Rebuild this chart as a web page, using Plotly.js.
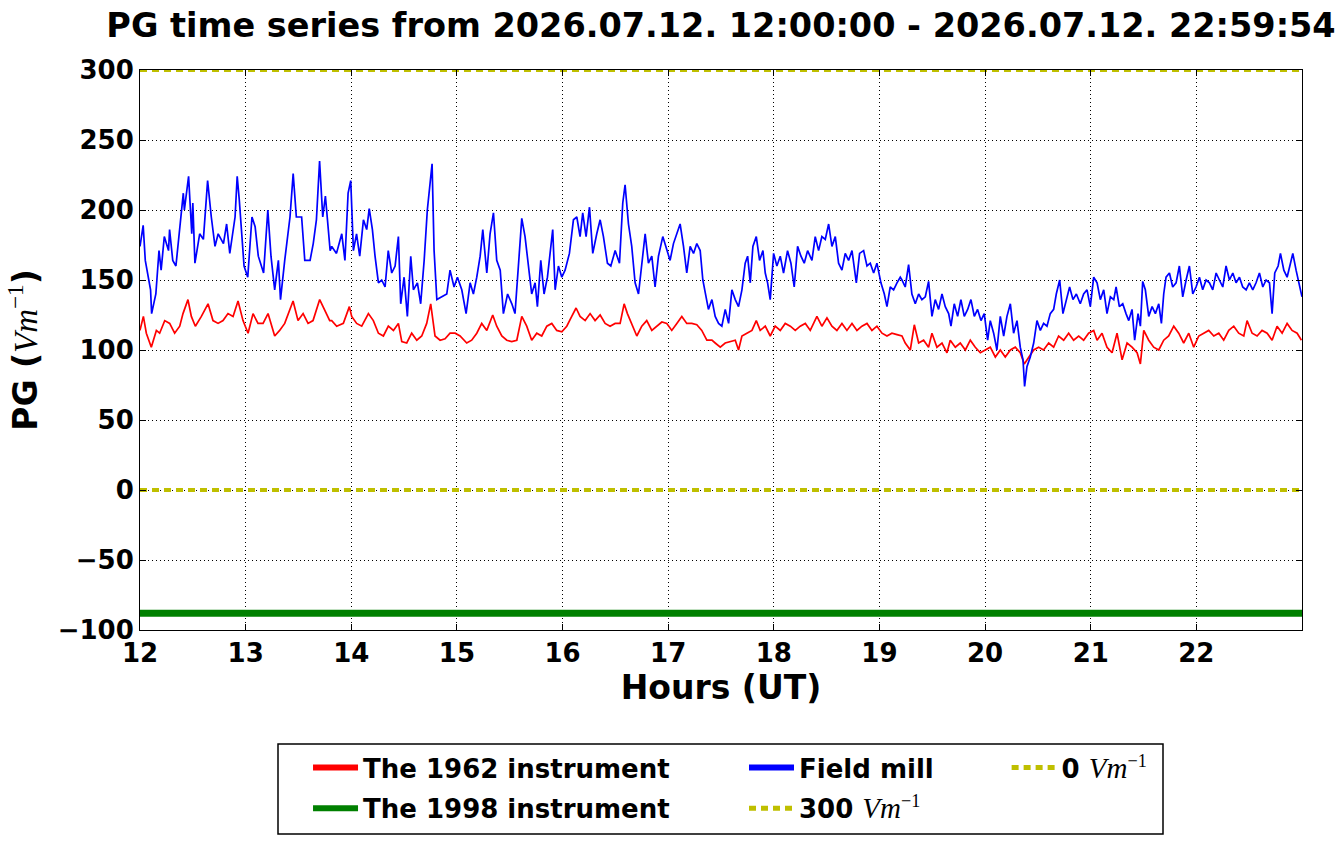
<!DOCTYPE html>
<html>
<head>
<meta charset="utf-8">
<script src="https://cdn.plot.ly/plotly-3.0.1.min.js"></script>
<style>html,body{margin:0;padding:0;background:#fff;}#chart{width:1342px;height:844px;}</style>
</head>
<body>
<div id="chart"></div>
<script>
// ---- Data (hours UT, PG in V/m) ----
const fieldMillHours = [12.00,12.03,12.05,12.10,12.11,12.15,12.18,12.20,12.23,12.27,12.28,12.31,12.34,12.38,12.41,12.42,12.46,12.49,12.50,12.52,12.565,12.60,12.64,12.675,12.71,12.74,12.79,12.82,12.85,12.90,12.92,12.94,12.985,13.02,13.06,13.09,13.12,13.17,13.21,13.24,13.275,13.31,13.33,13.37,13.42,13.45,13.48,13.53,13.56,13.61,13.64,13.67,13.70,13.73,13.755,13.80,
13.815,13.86,13.91,13.94,13.97,13.995,14.02,14.05,14.08,14.115,14.146,14.17,14.20,14.225,14.257,14.288,14.32,14.35,14.383,14.415,14.446,14.468,14.50,14.531,14.563,14.588,14.626,14.657,14.69,14.72,14.746,14.765,14.784,14.81,14.857,14.904,14.935,14.973,15.005,15.046,15.087,15.125,15.156,15.188,15.22,15.245,15.283,15.314,15.346,15.377,15.41,15.44,15.48,15.52,15.55,15.58,
15.614,15.645,15.677,15.708,15.74,15.762,15.794,15.825,15.857,15.888,15.907,15.93,15.961,15.993,16.024,16.065,16.103,16.135,16.166,16.191,16.223,16.255,16.286,16.324,16.356,16.387,16.425,16.457,16.498,16.539,16.57,16.592,16.624,16.655,16.687,16.719,16.75,16.782,16.813,16.845,16.876,16.908,16.949,16.987,17.018,17.05,17.082,17.113,17.145,17.176,17.208,17.24,17.271,17.303,17.328,17.35,17.381,
17.414,17.445,17.477,17.508,17.54,17.572,17.603,17.635,17.666,17.698,17.729,17.752,17.777,17.802,17.834,17.865,17.897,17.919,17.941,17.966,17.998,18.029,18.061,18.092,18.13,18.162,18.193,18.225,18.257,18.288,18.32,18.361,18.392,18.424,18.455,18.487,18.519,18.55,18.582,18.613,18.645,18.676,18.708,18.74,18.781,18.812,18.85,18.882,18.913,18.945,18.976,19.014,19.046,19.071,19.102,19.134,19.166,19.197,
19.213,19.244,19.276,19.307,19.339,19.371,19.402,19.434,19.465,19.497,19.528,19.56,19.592,19.623,19.655,19.677,19.708,19.74,19.771,19.803,19.835,19.866,19.898,19.929,19.961,19.992,20.024,20.049,20.081,20.112,20.144,20.176,20.207,20.239,20.27,20.302,20.333,20.359,20.374,20.396,20.428,20.46,20.491,20.523,20.554,20.586,20.617,20.649,20.674,20.706,20.737,20.769,20.8,20.832,20.864,20.901,20.933,20.965,20.996,21.028,
21.06,21.091,21.123,21.154,21.186,21.218,21.24,21.271,21.303,21.334,21.36,21.391,21.416,21.448,21.47,21.492,21.517,21.549,21.581,21.612,21.644,21.669,21.691,21.713,21.745,21.776,21.808,21.839,21.871,21.903,21.934,21.966,21.997,22.029,22.06,22.092,22.124,22.155,22.187,22.218,22.25,22.281,22.313,22.345,22.376,22.408,22.439,22.471,22.502,22.534,22.565,22.597,22.629,22.66,22.692,22.717,22.742,22.774,22.796,22.828,22.859,22.891,22.913,22.944,22.976,23.0];
const fieldMillPG = [174,189,164,143,126,140,171,157,181,171,186,164,160,188,212,200,224,183,205,162,183,179,221,195,174,183,176,190,169,195,224,207,160,152,195,188,167,155,200,167,143,164,136,164,195,226,195,195,164,164,176,193,235,195,210,171,
174,169,183,164,212,221,171,183,167,193,186,201,186,167,148,150,145,171,155,160,181,133,152,124,167,143,148,133,164,200,219,233,171,136,138,140,157,145,152,143,126,148,140,152,167,186,155,183,198,164,157,126,140,133,126,160,
194,181,160,140,148,131,164,140,152,174,186,143,160,152,157,169,193,195,181,198,181,202,169,183,193,181,162,160,171,162,205,218,190,174,148,140,162,183,162,167,145,167,181,171,164,176,183,190,174,155,174,169,176,171,150,140,129,
136,124,119,117,129,119,143,136,131,143,162,167,148,174,181,164,171,155,148,136,169,160,167,155,171,162,145,174,167,162,171,164,181,171,181,179,190,174,181,162,157,169,164,171,148,169,171,160,162,155,162,148,140,131,145,143,148,152,
150,145,161,140,133,140,136,138,149,124,136,129,140,131,126,117,133,124,136,124,129,136,124,129,121,126,107,121,112,100,124,110,124,133,112,121,102,93,74,88,95,105,121,114,119,117,126,129,140,150,126,136,145,136,140,133,140,143,131,152,
148,136,143,126,138,136,145,131,133,126,121,129,107,126,117,149,143,124,131,126,133,119,140,152,155,145,148,160,138,150,160,140,145,152,143,150,148,143,155,150,145,160,150,155,148,152,145,143,148,143,148,155,145,150,148,126,155,160,169,157,152,162,169,157,145,138];

const inst1962Hours = [12.0,12.032,12.06,12.107,12.155,12.186,12.234,12.281,12.328,12.376,12.407,12.454,12.486,12.524,12.581,12.644,12.691,12.739,12.786,12.833,12.881,12.928,12.975,13.023,13.07,13.117,13.165,13.212,13.275,13.322,13.37,13.417,13.449,13.496,13.544,13.591,13.638,13.701,13.749,13.796,
13.815,13.862,13.925,13.982,14.004,14.051,14.099,14.162,14.209,14.257,14.304,14.351,14.399,14.446,14.478,14.525,14.572,14.62,14.667,14.714,14.752,14.793,14.841,14.888,14.935,14.983,15.03,15.093,15.14,15.188,15.235,15.283,15.339,15.377,15.425,15.472,15.519,15.567,
15.614,15.661,15.708,15.756,15.803,15.851,15.898,15.945,15.993,16.04,16.087,16.128,16.166,16.214,16.261,16.308,16.356,16.403,16.45,16.498,16.545,16.583,16.614,16.655,16.703,16.75,16.797,16.845,16.892,16.94,16.987,17.034,17.082,17.129,17.176,17.224,17.271,17.318,17.366,
17.414,17.445,17.493,17.54,17.587,17.635,17.666,17.698,17.745,17.793,17.834,17.871,17.919,17.966,18.013,18.061,18.108,18.156,18.203,18.25,18.298,18.345,18.408,18.455,18.503,18.55,18.597,18.645,18.692,18.74,18.787,18.834,18.882,18.929,18.976,19.024,19.071,19.118,19.166,
19.213,19.244,19.292,19.33,19.371,19.418,19.465,19.497,19.544,19.592,19.639,19.67,19.718,19.765,19.813,19.86,19.907,19.955,20.002,20.049,20.097,20.144,20.191,20.239,20.286,20.333,20.371,20.412,20.46,20.507,20.554,20.602,20.649,20.696,20.744,20.791,20.838,20.886,20.933,20.98,21.028,
21.06,21.107,21.154,21.202,21.249,21.297,21.344,21.391,21.439,21.47,21.502,21.549,21.596,21.644,21.691,21.738,21.786,21.833,21.88,21.928,21.975,22.023,22.07,22.117,22.165,22.212,22.259,22.307,22.354,22.401,22.449,22.48,22.528,22.575,22.622,22.67,22.717,22.764,22.812,22.859,22.906,22.954,22.995];
const inst1962PG = [114,124,112,102,114,112,121,119,112,117,126,136,124,117,124,133,121,119,121,126,124,135,121,112,126,119,119,126,110,114,119,129,135,121,126,119,121,136,129,121,
121,117,119,131,124,119,117,126,121,112,110,117,114,119,106,105,112,107,110,119,133,110,107,108,112,112,110,105,107,112,119,114,125,117,110,107,106,107,
124,117,107,112,110,117,119,114,113,117,124,130,124,121,126,121,125,119,117,119,119,133,126,119,110,117,121,114,117,120,119,114,119,124,119,119,118,114,107,
107,105,102,105,106,107,100,110,112,114,121,114,117,110,117,114,119,117,114,117,119,114,124,117,123,117,114,119,114,119,114,117,119,114,117,112,110,112,111,
110,105,100,118,105,107,102,112,102,105,98,107,102,105,100,107,102,98,100,102,95,100,95,100,102,98,90,95,100,102,100,105,102,110,107,112,107,110,107,112,114,
107,112,102,98,112,93,105,102,98,90,114,107,102,100,107,110,117,112,105,112,102,110,112,114,110,112,107,114,117,112,110,121,112,110,114,112,107,117,112,119,114,112,107];

const spanHours = [12, 23];
const inst1998PG = [-88, -88];
const ref300 = [300, 300];
const ref0 = [0, 0];

const yTicks = [-100, -50, 0, 50, 100, 150, 200, 250, 300];
const xTicks = [12, 13, 14, 15, 16, 17, 18, 19, 20, 21, 22];

const unitAxis = '<span style="font-family:\'Liberation Serif\';font-style:italic;font-weight:normal">Vm</span><sup style="font-family:\'Liberation Serif\';font-weight:normal">−1</sup>';
const unitLeg = '<span style="font-family:\'Liberation Serif\';font-style:italic;font-weight:normal;font-size:29px">Vm</span><sup style="font-family:\'Liberation Serif\';font-weight:normal">−1</sup>';
const names = {
  i1962: 'The 1962 instrument',
  i1998: 'The 1998 instrument',
  mill: 'Field mill',
  r300: '300 ' + unitLeg,
  r0: '0 ' + unitLeg
};

const RED = '#ff0000', BLUE = '#0000ff', GREEN = '#008000', YEL = '#bfbf00';
const dashY = '7px,5px';

const traces = [
  {x: inst1962Hours, y: inst1962PG, mode: 'lines', line: {color: RED, width: 1.7}, showlegend: false, hoverinfo: 'skip'},
  {x: fieldMillHours, y: fieldMillPG, mode: 'lines', line: {color: BLUE, width: 1.7}, showlegend: false, hoverinfo: 'skip'},
  {x: spanHours, y: ref0, mode: 'lines', line: {color: YEL, width: 4, dash: dashY}, showlegend: false, hoverinfo: 'skip'},
  {x: spanHours, y: inst1998PG, mode: 'lines', line: {color: GREEN, width: 7}, showlegend: false, hoverinfo: 'skip'},
  {x: spanHours, y: ref300, mode: 'lines', line: {color: YEL, width: 4, dash: dashY}, showlegend: false, hoverinfo: 'skip'},
  // legend entries
  {x: [null], y: [null], mode: 'lines', name: names.i1962, line: {color: RED, width: 6}, legend: 'legend', legendgroup: 'a'},
  {x: [null], y: [null], mode: 'lines', name: names.i1998, line: {color: GREEN, width: 6}, legend: 'legend', legendgroup: 'b'},
  {x: [null], y: [null], mode: 'lines', name: names.mill, line: {color: BLUE, width: 6}, legend: 'legend2', legendgroup: 'c'},
  {x: [null], y: [null], mode: 'lines', name: names.r300, line: {color: YEL, width: 5, dash: dashY}, legend: 'legend2', legendgroup: 'd'},
  {x: [null], y: [null], mode: 'lines', name: names.r0, line: {color: YEL, width: 5, dash: dashY}, legend: 'legend3', legendgroup: 'e'}
];

const F = 'DejaVu Sans, Liberation Sans, sans-serif';
const legFont = {family: F, size: 26, color: '#000', weight: 'bold'};
const legTop = 1 - 744/844;
const legBase = {bgcolor: 'rgba(0,0,0,0)', borderwidth: 0, font: legFont, xanchor: 'left', yanchor: 'top',
                 yref: 'container', y: legTop,
                 orientation: 'v', itemwidth: 45, tracegroupgap: 4, traceorder: 'grouped'};

const layout = {
  width: 1342, height: 844, autosize: false,
  paper_bgcolor: '#fff', plot_bgcolor: '#fff',
  margin: {l: 140, r: 40, t: 70, b: 214, pad: 0},
  title: {text: 'PG time series from 2026.07.12. 12:00:00 - 2026.07.12. 22:59:54',
          font: {family: F, size: 33.5, color: '#000', weight: 'bold'},
          x: 0.5, xref: 'paper', xanchor: 'center', y: 1 - 25/844, yref: 'container', yanchor: 'middle'},
  xaxis: {range: [12, 23], tickvals: xTicks, ticktext: xTicks.map(String),
          showgrid: true, gridcolor: '#000', gridwidth: 1, griddash: '1px,3px',
          zeroline: false, showline: true, linecolor: '#000', linewidth: 1, mirror: 'ticks',
          ticks: 'inside', ticklen: 6, tickcolor: '#000',
          tickfont: {family: F, size: 26, color: '#000', weight: 'bold'},
          title: {text: 'Hours (UT)', font: {family: F, size: 33, color: '#000', weight: 'bold'}, standoff: 8}},
  yaxis: {range: [-100, 300], tickvals: yTicks,
          showgrid: true, gridcolor: '#000', gridwidth: 1, griddash: '1px,3px',
          zeroline: false, showline: true, linecolor: '#000', linewidth: 1, mirror: 'ticks',
          ticks: 'inside', ticklen: 6, tickcolor: '#000',
          tickfont: {family: F, size: 26, color: '#000', weight: 'bold'},
          title: {text: 'PG (' + unitAxis + ')', font: {family: F, size: 33, color: '#000', weight: 'bold'}, standoff: 10}},
  legend: Object.assign({}, legBase, {x: 0.1446}),
  legend2: Object.assign({}, legBase, {x: 0.5198}),
  legend3: Object.assign({}, legBase, {x: 0.7458}),
  shapes: [
    {type: 'rect', xref: 'paper', yref: 'paper', x0: (278-140)/1162, x1: (1163-140)/1162,
     y0: (630-834)/560, y1: (630-744)/560, line: {color: '#000', width: 1.5}, fillcolor: 'rgba(0,0,0,0)'}
  ],
  showlegend: true
};

Plotly.newPlot('chart', traces, layout, {staticPlot: true, displayModeBar: false});
</script>
</body>
</html>
